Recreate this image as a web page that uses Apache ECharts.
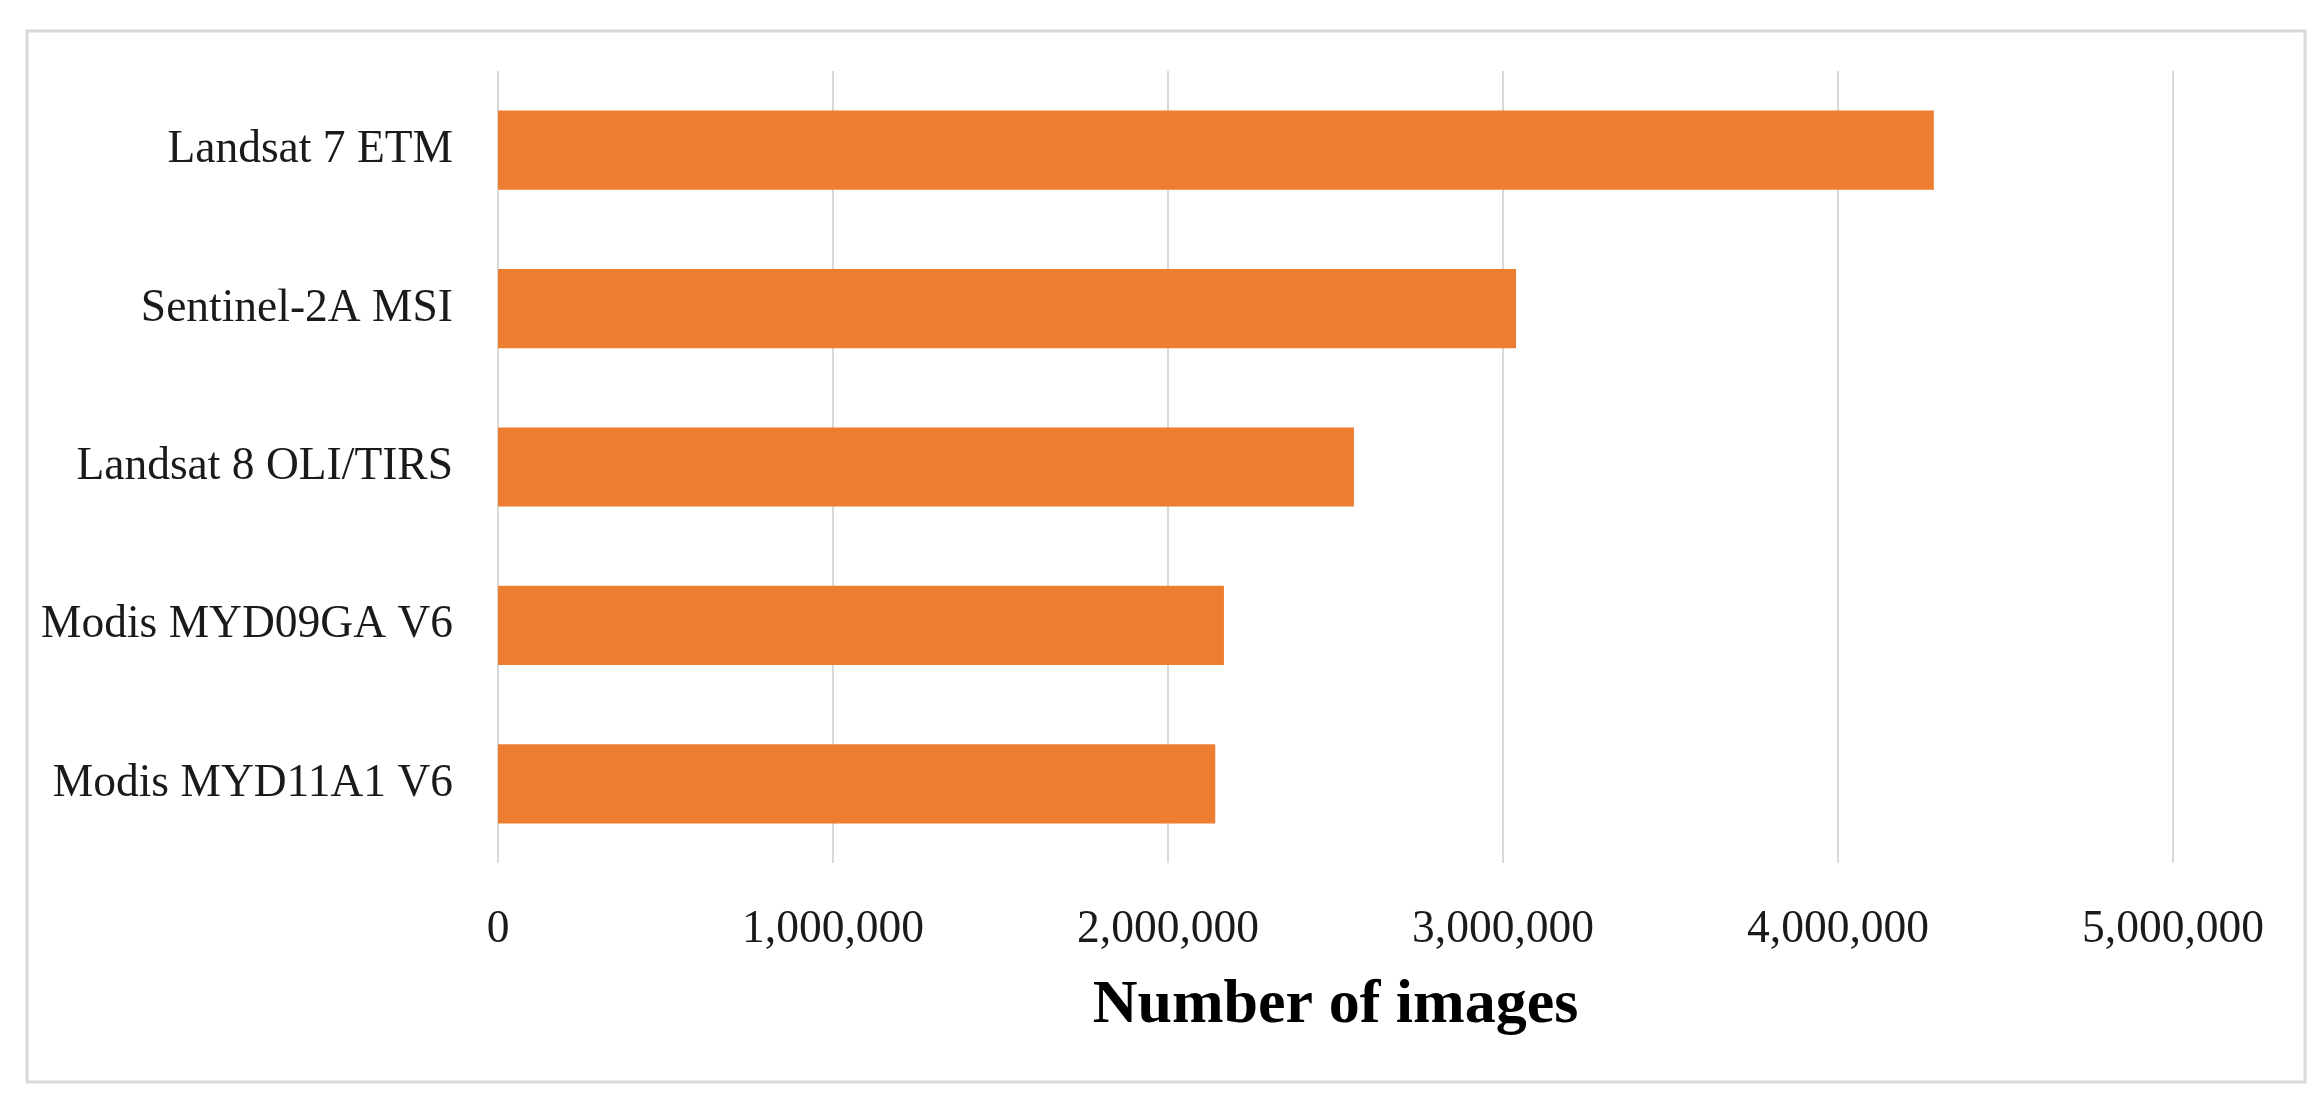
<!DOCTYPE html>
<html>
<head>
<meta charset="utf-8">
<script src="https://cdn.jsdelivr.net/npm/echarts@6/dist/echarts.min.js"></script>
<style>
html,body{margin:0;padding:0;background:#fff;}
#bar-chart{width:2324px;height:1107px;}
</style>
</head>
<body>
<div id="bar-chart"></div>
<script>
// categories listed bottom to top (category axis starts at the bottom)
let categories = ['Modis MYD11A1 V6', 'Modis MYD09GA V6', 'Landsat 8 OLI/TIRS', 'Sentinel-2A MSI', 'Landsat 7 ETM'];
let imageCounts = [2141000, 2167000, 2555000, 3039000, 4286000];
let xTicks = [0, 1000000, 2000000, 3000000, 4000000, 5000000];
let xAxisTitle = 'Number of images';

let serif = '"Liberation Serif", "DejaVu Serif", serif';

let chart = echarts.init(document.getElementById('bar-chart'));

function fmt(v){
    return String(v).replace(/\B(?=(\d{3})+(?!\d))/g, ',');
}

let option = {
    animation: false,
    backgroundColor: '#fff',
    graphic: [{
        type: 'rect',
        shape: {x: 27, y: 31, width: 2278, height: 1051},
        style: {fill: 'none', stroke: '#d9d9d9', lineWidth: 3},
        silent: true
    }],
    grid: {
        left: 498,
        right: 2324 - 2173,
        top: 71,
        bottom: 1107 - 863
    },
    xAxis: {
        type: 'value',
        min: xTicks[0],
        max: xTicks[xTicks.length - 1],
        interval: 1000000,
        name: xAxisTitle,
        nameLocation: 'middle',
        nameGap: 112,
        nameTextStyle: {
            fontFamily: serif,
            fontWeight: 'bold',
            fontSize: 62,
            color: '#000'
        },
        axisLine: {show: false},
        axisTick: {show: false},
        axisLabel: {
            margin: 44,
            fontFamily: serif,
            fontSize: 45.5,
            color: '#1a1a1a',
            formatter: function(v){ return fmt(v); }
        },
        splitLine: {
            show: true,
            lineStyle: {color: '#d9d9d9', width: 2}
        }
    },
    yAxis: {
        type: 'category',
        data: categories,
        axisLine: {show: false},
        axisTick: {show: false},
        axisLabel: {
            margin: 45,
            fontFamily: serif,
            fontSize: 45.5,
            color: '#1a1a1a'
        }
    },
    series: [{
        type: 'bar',
        data: imageCounts,
        barWidth: '50%',
        itemStyle: {color: '#ED7D31'}
    }]
};

chart.setOption(option);
</script>
</body>
</html>
